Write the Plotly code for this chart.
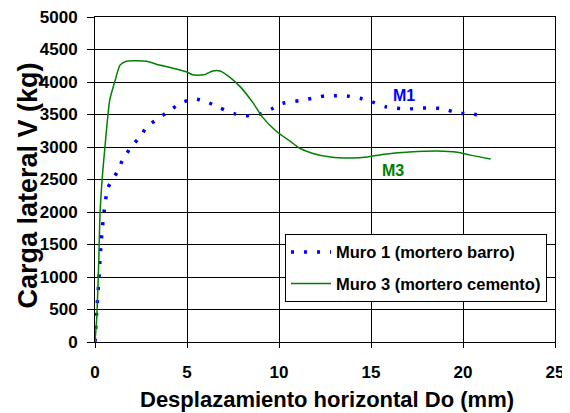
import plotly.graph_objects as go

# Muro 1 (mortero barro)
m1_x = [0, 0.1, 0.2, 0.3, 0.45, 0.7, 1.2, 1.5, 2.0, 2.5, 2.8, 3.4, 4.0, 4.7, 5.4, 6.1, 6.8, 7.6, 8.2,
        9.0, 9.6, 10.2, 11.1, 11.8, 12.5, 13.3, 13.7, 14.4, 15.1, 15.8, 16.2, 17.0, 17.7, 18.4, 19.0,
        19.7, 20.4, 21.1]
m1_y = [0, 500, 900, 1400, 1900, 2370, 2615, 2800, 3015, 3170, 3310, 3430, 3550, 3680, 3740, 3690,
        3600, 3510, 3480, 3510, 3585, 3670, 3715, 3750, 3785, 3790, 3785, 3750, 3690, 3620, 3600,
        3585, 3600, 3600, 3585, 3520, 3510, 3480]

# Muro 3 (mortero cemento)
m3_x = [0, 0.1, 0.2, 0.27, 0.4, 0.54, 0.8, 1.1, 1.36, 1.7, 2.8, 3.5, 4.2, 5.0, 5.3, 5.9, 6.4, 6.8,
        7.3, 7.9, 8.6, 9.1, 9.9, 10.6, 11.1, 11.8, 12.8, 13.9, 14.8, 15.7, 17.1, 18.6, 19.7, 20.4, 21.5]
m3_y = [0, 400, 1200, 1950, 2550, 3000, 3720, 4030, 4260, 4320, 4320, 4260, 4215, 4155, 4110, 4110,
        4170, 4170, 4080, 3925, 3675, 3460, 3230, 3090, 2985, 2905, 2845, 2830, 2845, 2890, 2925,
        2940, 2920, 2875, 2815]

names = ["Muro 1 (mortero barro)", "Muro 3 (mortero cemento)"]
x_ticks = [0, 5, 10, 15, 20, 25]
y_ticks = list(range(0, 5001, 500))

FONT = "Liberation Sans, Arial, sans-serif"

fig = go.Figure()
fig.add_trace(go.Scatter(x=m1_x, y=m1_y, mode="lines", name=names[0], legendgroup="a",
                         line=dict(color="#0000FF", width=3.5, dash="3px,10px", shape="spline", smoothing=0.6)))
fig.add_trace(go.Scatter(x=m3_x, y=m3_y, mode="lines", name=names[1], legendgroup="b",
                         line=dict(color="#008000", width=1.5, shape="spline", smoothing=0.6)))

# page body has an 8px margin, so the figure is drawn 8px smaller and offset accordingly
fig.update_layout(
    width=562, height=405,
    margin=dict(l=87, r=15, t=9, b=71, autoexpand=False),
    paper_bgcolor="white", plot_bgcolor="white",
    font=dict(family=FONT, color="black"),
    showlegend=True,
    legend=dict(x=0.413, y=0.333, xanchor="left", yanchor="top",
                bgcolor="white", bordercolor="black", borderwidth=1,
                font=dict(size=16.5, family=FONT, color="black", weight="bold"),
                tracegroupgap=7, itemwidth=40),
    xaxis=dict(range=[0, 25], tickvals=x_ticks, showgrid=True, gridcolor="black", gridwidth=1,
               showline=True, linecolor="black", linewidth=1, mirror=True,
               ticks="outside", ticklen=5, tickcolor="black", ticklabeloverflow="allow",
               tickfont=dict(size=17, family=FONT, weight="bold"), ticklabelstandoff=10,
               zeroline=False),
    yaxis=dict(range=[0, 5000], tickvals=y_ticks, showgrid=True, gridcolor="black", gridwidth=1,
               showline=True, linecolor="black", linewidth=1, mirror=True,
               ticks="outside", ticklen=7, tickcolor="black", ticklabeloverflow="allow",
               tickfont=dict(size=17, family=FONT, weight="bold"), ticklabelstandoff=6,
               zeroline=False),
    annotations=[
        dict(text="Desplazamiento horizontal Do (mm)", xref="paper", yref="paper",
             x=0.5, y=0, xanchor="center", yanchor="middle", yshift=-57, xshift=2,
             showarrow=False, font=dict(size=22, family=FONT, color="black", weight="bold")),
        dict(text="Carga lateral V (kg)", xref="paper", yref="paper",
             x=0, y=0.5, xanchor="center", yanchor="middle", xshift=-68, yshift=-6,
             textangle=-90, showarrow=False, font=dict(size=27, family=FONT, color="black", weight="bold")),
        dict(text="M1", x=16.8, y=3790, xref="x", yref="y", showarrow=False,
             font=dict(size=16, family=FONT, color="#0000FF", weight="bold")),
        dict(text="M3", x=16.2, y=2640, xref="x", yref="y", showarrow=False,
             font=dict(size=16, family=FONT, color="#008000", weight="bold")),
    ],
)

fig.write_html("out.html")
